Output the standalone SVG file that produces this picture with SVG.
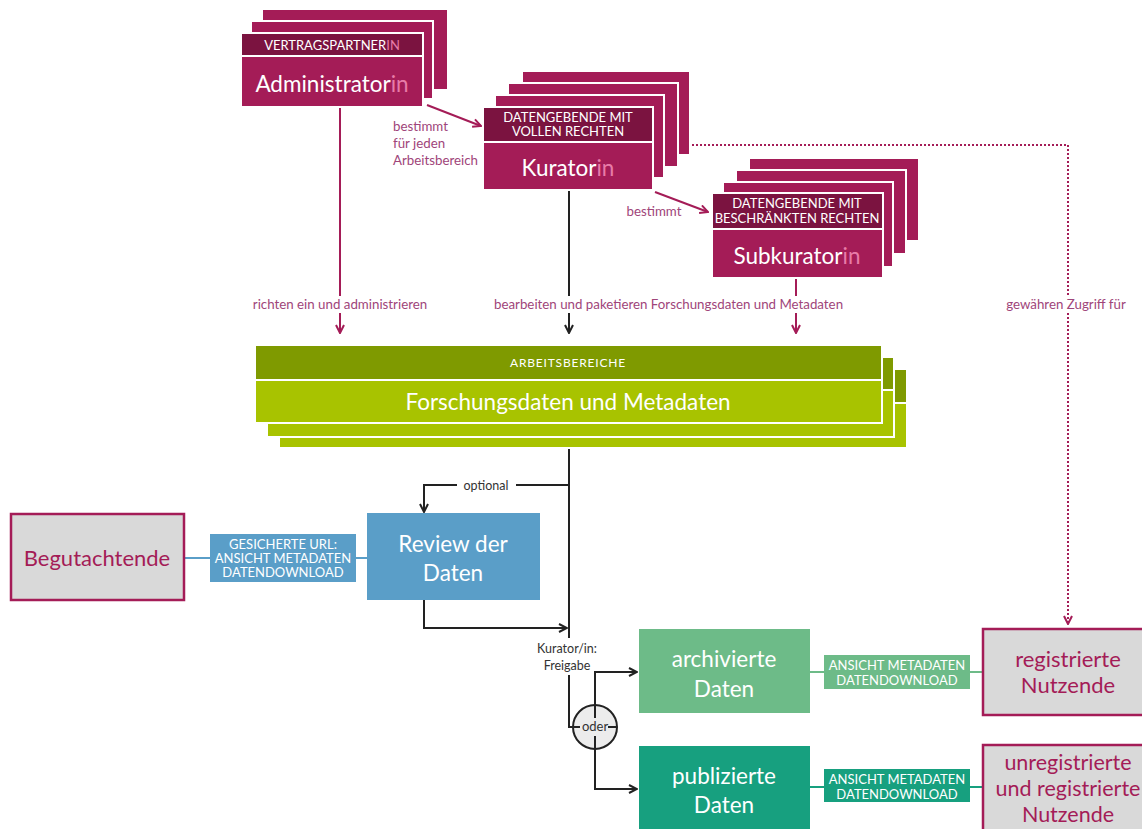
<svg xmlns="http://www.w3.org/2000/svg" width="1142" height="829" viewBox="0 0 1142 829">
<defs>
<style>
text{font-family:Lato,"Open Sans","Liberation Sans",sans-serif;dominant-baseline:central;text-anchor:middle}
.card{fill:#a41c57;stroke:#fff;stroke-width:2}
.hdr{fill:#7b1340;stroke:#fff;stroke-width:2}
.body{fill:#a41c57;stroke:#fff;stroke-width:2}
.ghdr{fill:#7f9a00;stroke:#fff;stroke-width:2}
.gbody{fill:#a8c300;stroke:#fff;stroke-width:2}
.wt{fill:#fff}
.pk{fill:#e87ba8}
.big{font-size:22.5px}
.cap{font-size:13px}
.lbl{font-size:13.3px;fill:#a0457a}
.dk{font-size:12.5px;fill:#333}
.ml{stroke:#a41c57;stroke-width:2;fill:none}
.bl{stroke:#222;stroke-width:2;fill:none}
.dot{stroke:#a41c57;stroke-width:2;fill:none;stroke-dasharray:2 2}
.user{fill:#d9d9d9;stroke:#a41c57;stroke-width:2.5}
.ut{fill:#a41c57;font-size:22px}
</style>
<marker id="am" viewBox="0 0 10 10" refX="9" refY="5" markerWidth="10" markerHeight="10" orient="auto" markerUnits="userSpaceOnUse"><path d="M1,1 L9,5 L1,9" fill="none" stroke="#a41c57" stroke-width="2"/></marker>
<marker id="ab" viewBox="0 0 10 10" refX="9" refY="5" markerWidth="10" markerHeight="10" orient="auto" markerUnits="userSpaceOnUse"><path d="M1,1 L9,5 L1,9" fill="none" stroke="#222" stroke-width="2"/></marker>
</defs>
<rect width="1142" height="829" fill="#fff"/>

<g id="connectors">
<path class="ml" d="M427,105 L481,126" marker-end="url(#am)"/>
<path class="ml" d="M655,192 L708,212" marker-end="url(#am)"/>
<path class="ml" d="M340,107 V296"/>
<path class="ml" d="M340,313 V333" marker-end="url(#am)"/>
<path class="bl" d="M569,190 V296"/>
<path class="bl" d="M569,313 V333" marker-end="url(#ab)"/>
<path class="ml" d="M796,278 V296"/>
<path class="ml" d="M796,313 V333" marker-end="url(#am)"/>
<path class="dot" d="M692,145 H1068 V296"/>
<path class="dot" d="M1068,313 V624" marker-end="url(#am)"/>
<path class="bl" d="M569,424 V638"/>
<path class="bl" d="M569,485 H516"/>
<path class="bl" d="M457,485 H424 V512" marker-end="url(#ab)"/>
<path class="bl" d="M424,600 V628 H567" marker-end="url(#ab)"/>
<path class="bl" d="M569,675 V727 H574"/>
<path class="bl" d="M595,705 V672 H637" marker-end="url(#ab)"/>
<path class="bl" d="M595,749 V789 H637" marker-end="url(#ab)"/>
<path d="M184,558 H210 M356,558 H367" stroke="#5a9ec8" stroke-width="2"/>
<path d="M810,672 H824 M970,672 H983" stroke="#6dbb88" stroke-width="2"/>
<path d="M810,787 H824 M970,787 H983" stroke="#17a07f" stroke-width="2"/>
<text class="lbl" x="393" y="126" style="text-anchor:start">bestimmt</text>
<text class="lbl" x="393" y="143" style="text-anchor:start">für jeden</text>
<text class="lbl" x="393" y="160" style="text-anchor:start">Arbeitsbereich</text>
<text class="lbl" x="654" y="211">bestimmt</text>
<text class="lbl" x="340" y="304">richten ein und administrieren</text>
<text class="lbl" x="494" y="304" style="text-anchor:start">bearbeiten und paketieren Forschungsdaten und Metadaten</text>
<text class="lbl" x="1066" y="304">gewähren Zugriff für</text>
<text class="dk" x="486" y="485">optional</text>
<text class="dk" x="567" y="648">Kurator/in:</text>
<text class="dk" x="567" y="665">Freigabe</text>
</g>

<g id="administratorin">
<rect class="card" x="262" y="9" width="186" height="81"/>
<rect class="card" x="251" y="21" width="182" height="78"/>
<rect class="hdr" x="241" y="33" width="182" height="23"/>
<rect class="body" x="241" y="56" width="182" height="51"/>
<text class="wt cap" x="332" y="45">VERTRAGSPARTNER<tspan class="pk">IN</tspan></text>
<text class="wt big" x="332" y="83">Administrator<tspan class="pk">in</tspan></text>
</g>

<g id="kuratorin">
<rect class="card" x="522" y="71" width="168" height="84"/>
<rect class="card" x="508" y="83" width="170" height="84"/>
<rect class="card" x="495" y="95" width="169" height="83"/>
<rect class="hdr" x="483" y="107" width="170" height="35"/>
<rect class="body" x="483" y="142" width="170" height="48"/>
<text class="wt cap" x="568" y="117">DATENGEBENDE MIT</text>
<text class="wt cap" x="568" y="131">VOLLEN RECHTEN</text>
<text class="wt big" x="568" y="167">Kurator<tspan class="pk">in</tspan></text>
</g>

<g id="subkuratorin">
<rect class="card" x="749" y="158" width="170" height="83"/>
<rect class="card" x="736" y="170" width="170" height="84"/>
<rect class="card" x="723" y="182" width="170" height="85"/>
<rect class="hdr" x="712" y="193" width="171" height="36"/>
<rect class="body" x="712" y="229" width="171" height="49"/>
<text class="wt cap" x="797" y="203">DATENGEBENDE MIT</text>
<text class="wt cap" x="797" y="218">BESCHRÄNKTEN RECHTEN</text>
<text class="wt big" x="797" y="255">Subkurator<tspan class="pk">in</tspan></text>
</g>

<g id="arbeitsbereiche">
<rect class="gbody" x="279" y="369" width="628" height="79"/>
<rect class="ghdr" x="279" y="369" width="628" height="34"/>
<rect class="gbody" x="267" y="357" width="627" height="80"/>
<rect class="ghdr" x="267" y="357" width="627" height="33"/>
<rect class="ghdr" x="255" y="345" width="627" height="35"/>
<rect class="gbody" x="255" y="380" width="627" height="43"/>
<text class="wt" x="568" y="362" style="font-size:12px;letter-spacing:0.8px">ARBEITSBEREICHE</text>
<text class="wt" x="568" y="401" style="font-size:22.5px">Forschungsdaten und Metadaten</text>
</g>

<g id="begutachtende">
<rect class="user" x="11" y="514" width="173" height="86"/>
<text class="ut" x="97" y="557">Begutachtende</text>
</g>

<g id="gesicherte-url">
<rect x="210" y="534" width="146" height="48" fill="#5a9ec8"/>
<text class="wt cap" x="283" y="544">GESICHERTE URL:</text>
<text class="wt cap" x="283" y="558">ANSICHT METADATEN</text>
<text class="wt cap" x="283" y="572">DATENDOWNLOAD</text>
</g>

<g id="review">
<rect x="367" y="513" width="173" height="87" fill="#5a9ec8"/>
<text class="wt big" x="453" y="543">Review der</text>
<text class="wt big" x="453" y="572">Daten</text>
</g>

<g id="oder">
<circle cx="595" cy="727" r="22" fill="#ececec" stroke="#222" stroke-width="2"/>
<path class="bl" d="M595,705 V718 M595,736 V749 M573,727 H580 M608,727 H617"/>
<text x="595" y="726" style="font-size:13px;fill:#333">oder</text>
</g>

<g id="archiviert">
<rect x="639" y="629" width="171" height="84" fill="#6dbb88"/>
<text class="wt big" x="724" y="658">archivierte</text>
<text class="wt big" x="724" y="688">Daten</text>
</g>

<g id="label-archiviert">
<rect x="824" y="655" width="146" height="34" fill="#6dbb88"/>
<text class="wt cap" x="897" y="665">ANSICHT METADATEN</text>
<text class="wt cap" x="897" y="680">DATENDOWNLOAD</text>
</g>

<g id="publiziert">
<rect x="639" y="746" width="171" height="90" fill="#17a07f"/>
<text class="wt big" x="724" y="775">publizierte</text>
<text class="wt big" x="724" y="804">Daten</text>
</g>

<g id="label-publiziert">
<rect x="824" y="769" width="146" height="33" fill="#17a07f"/>
<text class="wt cap" x="897" y="779">ANSICHT METADATEN</text>
<text class="wt cap" x="897" y="794">DATENDOWNLOAD</text>
</g>

<g id="registrierte">
<rect class="user" x="983" y="629" width="170" height="86"/>
<text class="ut" x="1068" y="658">registrierte</text>
<text class="ut" x="1068" y="684">Nutzende</text>
</g>

<g id="unregistrierte">
<rect class="user" x="983" y="745" width="170" height="95"/>
<text class="ut" x="1068" y="762" style="font-size:21.5px">unregistrierte</text>
<text class="ut" x="1068" y="788" style="font-size:21.5px">und registrierte</text>
<text class="ut" x="1068" y="814" style="font-size:21.5px">Nutzende</text>
</g>
</svg>
